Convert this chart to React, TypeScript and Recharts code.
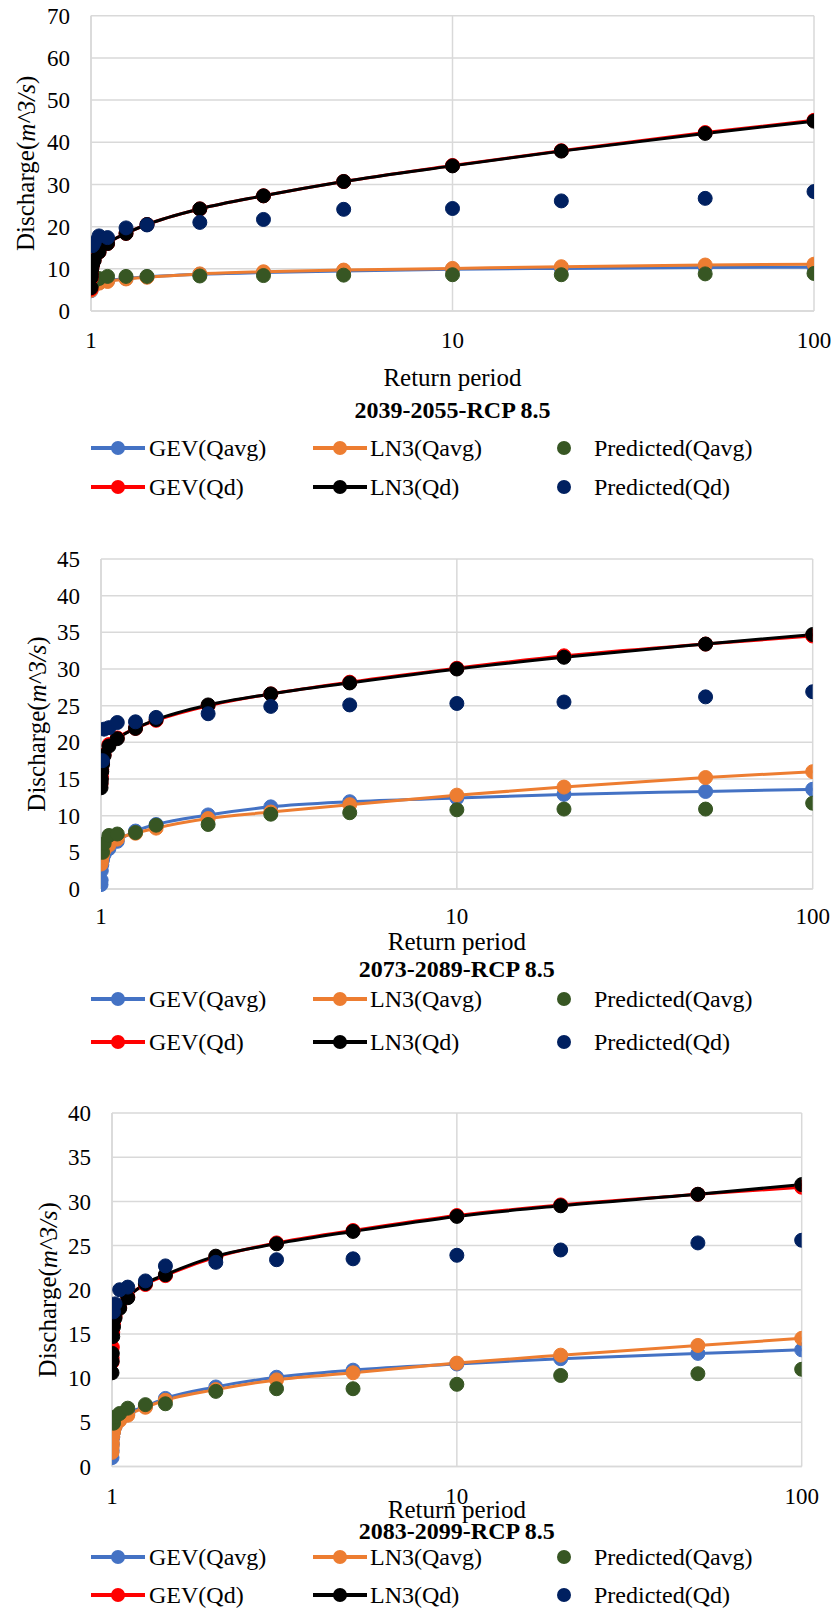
import React from 'react'
import { ComposedChart, Line, XAxis, YAxis, CartesianGrid } from 'recharts'

const FONT = 'Liberation Serif, Times New Roman, serif'

// return periods (years)
const fitT = [1.0001, 1.001, 1.002, 1.005, 1.0101, 1.0204, 1.0526, 1.1111, 1.25, 1.4286, 2, 3, 5, 10, 20, 50, 100]
const predT = [1.0101, 1.0204, 1.0526, 1.1111, 1.25, 1.4286, 2, 3, 5, 10, 20, 50, 100]
const xTicks = [1, 10, 100]

// 2039-2055
const p1GevAvg = [4.8, 5.3, 5.5, 5.8, 6.0, 6.3, 6.7, 7.2, 7.7, 8.1, 8.7, 9.1, 9.5, 9.9, 10.1, 10.3, 10.4]
const p1Ln3Avg = [4.9, 5.3, 5.5, 5.7, 6.0, 6.2, 6.6, 7.0, 7.6, 8.0, 8.8, 9.3, 9.7, 10.1, 10.5, 10.9, 11.1]
const p1PredAvg = [6.6, 7.2, 7.7, 8.2, 8.2, 8.2, 8.3, 8.4, 8.5, 8.6, 8.6, 8.8, 8.9]
const p1GevQd = [5.2, 7.8, 8.7, 10.0, 11.0, 12.1, 14.0, 16.0, 18.4, 20.5, 24.2, 27.3, 30.7, 34.5, 38.0, 42.3, 45.2]
const p1Ln3Qd = [5.5, 8.0, 8.8, 10.0, 11.0, 12.0, 14.0, 16.0, 18.4, 20.5, 24.2, 27.3, 30.7, 34.4, 37.9, 42.1, 45.0]
const p1PredQd = [15.5, 16.2, 17.8, 17.4, 19.7, 20.4, 21.0, 21.7, 24.1, 24.3, 26.1, 26.7, 28.3]

// 2073-2089
const p2GevAvg = [0.6, 1.2, 2.5, 3.3, 4.0, 4.7, 5.5, 6.5, 7.9, 8.8, 10.1, 11.2, 11.9, 12.4, 12.9, 13.3, 13.6]
const p2Ln3Avg = [3.4, 3.7, 3.9, 4.3, 4.7, 5.3, 6.0, 6.8, 7.6, 8.3, 9.6, 10.5, 11.5, 12.8, 13.9, 15.2, 16.0]
const p2PredAvg = [5.0, 6.2, 7.3, 7.5, 7.7, 8.7, 8.8, 10.2, 10.4, 10.8, 10.9, 10.9, 11.7]
const p2GevQd = [14.3, 15.0, 15.4, 16.3, 17.2, 18.3, 19.7, 20.6, 21.9, 23.0, 25.0, 26.6, 28.2, 30.1, 31.8, 33.4, 34.5]
const p2Ln3Qd = [13.8, 14.5, 15.0, 16.0, 17.0, 18.2, 19.5, 20.5, 21.9, 23.1, 25.1, 26.6, 28.1, 30.0, 31.6, 33.4, 34.7]
const p2PredQd = [17.5, 21.8, 22.0, 22.7, 22.8, 23.4, 23.9, 24.9, 25.1, 25.3, 25.5, 26.2, 26.9]

// 2083-2099
const p3GevAvg = [1.0, 1.8, 2.5, 3.3, 3.9, 4.5, 5.3, 6.0, 6.8, 7.7, 9.0, 10.1, 10.9, 11.6, 12.2, 12.8, 13.2]
const p3Ln3Avg = [1.6, 2.2, 2.7, 3.4, 3.9, 4.5, 5.2, 5.8, 6.7, 7.5, 8.7, 9.8, 10.6, 11.7, 12.6, 13.7, 14.5]
const p3PredAvg = [4.9, 5.6, 6.0, 6.6, 7.0, 7.1, 8.5, 8.8, 8.8, 9.3, 10.3, 10.5, 11.0]
const p3GevQd = [11.8, 12.3, 13.5, 15.2, 16.2, 17.0, 18.0, 19.2, 20.6, 21.6, 23.7, 25.3, 26.7, 28.4, 29.6, 30.8, 31.6]
const p3Ln3Qd = [10.6, 11.9, 12.8, 14.7, 15.8, 16.8, 17.9, 19.1, 20.7, 21.7, 23.8, 25.2, 26.6, 28.3, 29.5, 30.8, 31.9]
const p3PredQd = [17.5, 18.4, 20.0, 20.3, 21.0, 22.7, 23.1, 23.4, 23.5, 23.9, 24.5, 25.3, 25.6]

const C = {
  gevAvg: '#4472C4',
  ln3Avg: '#ED7D31',
  predAvg: '#375623',
  gevQd: '#FF0000',
  ln3Qd: '#000000',
  predQd: '#002060',
}

const toPts = (xs: number[], ys: number[]) => xs.map((x, i) => ({ x, y: ys[i] }))

interface Series {
  gevAvg: number[]
  ln3Avg: number[]
  predAvg: number[]
  gevQd: number[]
  ln3Qd: number[]
  predQd: number[]
}

interface PanelProps {
  top: number
  height: number
  plot: { left: number; top: number; right: number; bottom: number }
  yMax: number
  yTicks: number[]
  s: Series
  yLabelX: number
  xTickMargin: number
  rpY: number
  titleY: number
  row1Y: number
  row2Y: number
  title: string
}

const Swatch = ({ color, x, y, line }: { color: string; x: number; y: number; line: boolean }) => (
  <svg width={56} height={20} style={{ position: 'absolute', left: x, top: y - 10 }}>
    {line && <line x1={0} y1={10} x2={54} y2={10} stroke={color} strokeWidth={4} />}
    <circle cx={line ? 27 : 8} cy={10} r={7} fill={color} />
  </svg>
)

const LegendText = ({ text, x, y }: { text: string; x: number; y: number }) => (
  <div style={{ position: 'absolute', left: x, top: y - 15, lineHeight: '30px', fontSize: 24, fontFamily: FONT, whiteSpace: 'nowrap' }}>
    {text}
  </div>
)

const Panel = (p: PanelProps) => {
  const { plot } = p
  const cx = (plot.left + plot.right) / 2
  const cy = (plot.top + plot.bottom) / 2
  const grid = '#d9d9d9'
  const tickStyle = { fill: '#000', fontSize: 23, fontFamily: FONT }
  const yLabel = () => (
    <text
      x={p.yLabelX}
      y={cy}
      transform={`rotate(-90 ${p.yLabelX} ${cy})`}
      textAnchor="middle"
      dominantBaseline="central"
      fontFamily={FONT}
      fontSize={25}
      fill="#000"
    >
      Discharge(<tspan fontStyle="italic">m^3/s</tspan>)
    </text>
  )
  const fit = (key: keyof Series, color: string) => (
    <Line
      key={key}
      data={toPts(fitT, p.s[key])}
      dataKey="y"
      type="monotone"
      stroke={color}
      strokeWidth={3}
      dot={{ r: 7, fill: color, stroke: color, strokeWidth: 1 }}
      activeDot={false}
      isAnimationActive={false}
    />
  )
  const pred = (key: keyof Series, color: string) => (
    <Line
      key={key}
      data={toPts(predT, p.s[key])}
      dataKey="y"
      stroke="none"
      dot={{ r: 7, fill: color, stroke: color, strokeWidth: 1 }}
      activeDot={false}
      isAnimationActive={false}
    />
  )

  return (
    <div style={{ position: 'absolute', left: 0, top: p.top, width: 838, height: p.height, fontFamily: FONT }}>
      <ComposedChart
        width={838}
        height={p.height}
        style={{ fontFamily: FONT }}
        margin={{ top: plot.top, right: 838 - plot.right, left: plot.left - 60, bottom: p.height - plot.bottom - 30 }}
      >
        <CartesianGrid stroke={grid} strokeWidth={1.5} />
        <XAxis
          type="number"
          dataKey="x"
          scale="log"
          domain={[1, 100]}
          ticks={xTicks}
          interval={0}
          allowDataOverflow
          height={30}
          tickSize={0}
          tickMargin={p.xTickMargin}
          axisLine={{ stroke: grid, strokeWidth: 1.5 }}
          tick={tickStyle}
        />
        <YAxis
          type="number"
          domain={[0, p.yMax]}
          ticks={p.yTicks}
          interval={0}
          width={60}
          tickSize={0}
          tickMargin={21}
          axisLine={{ stroke: grid, strokeWidth: 1.5 }}
          tick={tickStyle}
          label={yLabel}
        />
        {fit('gevAvg', C.gevAvg)}
        {fit('ln3Avg', C.ln3Avg)}
        {pred('predAvg', C.predAvg)}
        {fit('gevQd', C.gevQd)}
        {fit('ln3Qd', C.ln3Qd)}
        {pred('predQd', C.predQd)}
      </ComposedChart>

      <div style={{ position: 'absolute', left: cx - 150, width: 300, top: p.rpY - 15, lineHeight: '30px', textAlign: 'center', fontSize: 25 }}>
        Return period
      </div>
      <div style={{ position: 'absolute', left: cx - 150, width: 300, top: p.titleY - 15, lineHeight: '30px', textAlign: 'center', fontSize: 24, fontWeight: 'bold' }}>
        {p.title}
      </div>

      <Swatch color={C.gevAvg} x={91} y={p.row1Y} line />
      <LegendText text="GEV(Qavg)" x={149} y={p.row1Y} />
      <Swatch color={C.ln3Avg} x={313} y={p.row1Y} line />
      <LegendText text="LN3(Qavg)" x={370} y={p.row1Y} />
      <Swatch color={C.predAvg} x={556} y={p.row1Y} line={false} />
      <LegendText text="Predicted(Qavg)" x={594} y={p.row1Y} />

      <Swatch color={C.gevQd} x={91} y={p.row2Y} line />
      <LegendText text="GEV(Qd)" x={149} y={p.row2Y} />
      <Swatch color={C.ln3Qd} x={313} y={p.row2Y} line />
      <LegendText text="LN3(Qd)" x={370} y={p.row2Y} />
      <Swatch color={C.predQd} x={556} y={p.row2Y} line={false} />
      <LegendText text="Predicted(Qd)" x={594} y={p.row2Y} />
    </div>
  )
}

export default function App() {
  return (
    <div style={{ position: 'absolute', left: 0, top: 0, width: 838, height: 1614, background: '#fff', fontFamily: FONT }}>
      <Panel
        top={0}
        height={520}
        plot={{ left: 91, top: 15.7, right: 814, bottom: 311 }}
        yMax={70}
        yTicks={[0, 10, 20, 30, 40, 50, 60, 70]}
        s={{ gevAvg: p1GevAvg, ln3Avg: p1Ln3Avg, predAvg: p1PredAvg, gevQd: p1GevQd, ln3Qd: p1Ln3Qd, predQd: p1PredQd }}
        yLabelX={26}
        xTickMargin={21}
        rpY={378}
        titleY={410}
        row1Y={448}
        row2Y={487}
        title="2039-2055-RCP 8.5"
      />
      <Panel
        top={530}
        height={540}
        plot={{ left: 101, top: 29, right: 812.7, bottom: 359 }}
        yMax={45}
        yTicks={[0, 5, 10, 15, 20, 25, 30, 35, 40, 45]}
        s={{ gevAvg: p2GevAvg, ln3Avg: p2Ln3Avg, predAvg: p2PredAvg, gevQd: p2GevQd, ln3Qd: p2Ln3Qd, predQd: p2PredQd }}
        yLabelX={36.5}
        xTickMargin={19}
        rpY={412}
        titleY={439}
        row1Y={469}
        row2Y={512}
        title="2073-2089-RCP 8.5"
      />
      <Panel
        top={1090}
        height={524}
        plot={{ left: 112, top: 23, right: 801.7, bottom: 376.5 }}
        yMax={40}
        yTicks={[0, 5, 10, 15, 20, 25, 30, 35, 40]}
        s={{ gevAvg: p3GevAvg, ln3Avg: p3Ln3Avg, predAvg: p3PredAvg, gevQd: p3GevQd, ln3Qd: p3Ln3Qd, predQd: p3PredQd }}
        yLabelX={47.5}
        xTickMargin={21.5}
        rpY={420}
        titleY={441}
        row1Y={467}
        row2Y={505}
        title="2083-2099-RCP 8.5"
      />
    </div>
  )
}
